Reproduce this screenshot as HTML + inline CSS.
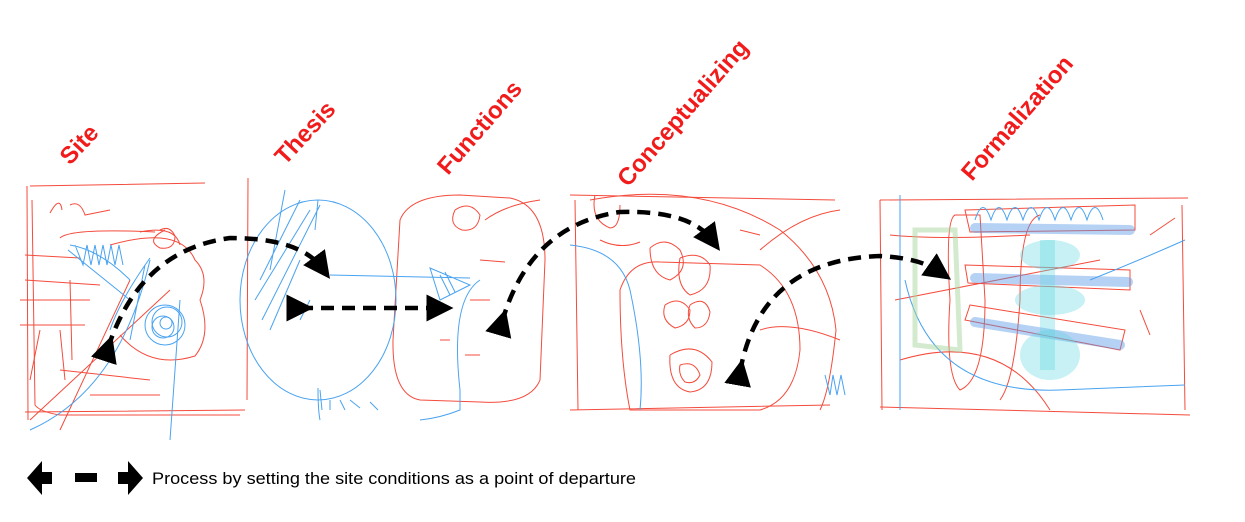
<!DOCTYPE html>
<html><head><meta charset="utf-8"><style>
html,body{margin:0;padding:0;background:#fff;width:1245px;height:522px;overflow:hidden}
svg{display:block}
.l{font-family:"Liberation Sans",sans-serif;font-weight:bold;font-size:24px;fill:#f21b1b}
</style></head><body>
<svg width="1245" height="522" viewBox="0 0 1245 522" xmlns="http://www.w3.org/2000/svg">
<defs>
<marker id="h" markerWidth="6" markerHeight="6" refX="3" refY="3" orient="auto" markerUnits="strokeWidth">
<path d="M0,0 L6,3 L0,6 Z" fill="#000"/></marker>
</defs>
<text class="l" transform="translate(70,166) rotate(-47)">Site</text>
<text class="l" transform="translate(285,166) rotate(-47)">Thesis</text>
<text class="l" transform="translate(448,176) rotate(-49)">Functions</text>
<text class="l" transform="translate(628,188) rotate(-49)">Conceptualizing</text>
<text class="l" transform="translate(972,182) rotate(-49)">Formalization</text>

<g fill="none" stroke="#f44b3c" stroke-width="1">
<path d="M30,186 L205,183 M27,186 L28,420 M248,178 L247,400 M25,412 L245,410"/>
<path d="M32,200 L35,405 Q40,412 60,415 L240,415"/>
<path d="M50,213 Q60,195 62,210 M70,205 Q80,200 85,215 L110,210"/>
<path d="M60,238 Q70,228 155,232 M140,232 Q175,225 180,245"/>
<path d="M25,255 L80,258 M25,280 L100,285 M20,300 L90,300 M20,325 L85,325 M60,330 L65,380 M70,280 L72,360"/>
<path d="M110,245 Q180,225 195,260 Q210,275 200,300 Q212,335 195,356 Q150,370 120,335"/>
<path d="M165,230 Q145,240 160,248 Q175,250 175,236 Q170,225 160,230"/>
<path d="M60,370 L150,380 M90,395 L160,395 M30,380 L40,330"/>
<path d="M170,290 L30,420 M130,280 L60,430"/>
<path d="M400,220 Q410,195 460,195 L510,198 Q545,205 545,260 L540,380 Q530,405 480,402 L420,400 Q392,395 393,340 Z"/>
<path d="M455,210 Q470,200 480,215 Q478,232 462,230 Q448,225 455,210"/>
<path d="M480,260 L505,262 M440,340 L450,340 M465,355 L480,355 M470,300 L490,300 M485,220 Q505,205 540,200"/>
<path d="M570,195 L835,200 M575,200 L578,410 M570,410 L830,405 M595,195 Q590,220 610,228 Q620,228 620,205"/>
<path d="M590,200 Q700,180 780,230 Q830,270 836,330 Q830,390 820,410"/>
<path d="M620,290 Q630,260 660,262 L760,265 Q800,290 800,350 Q795,400 760,410 L630,410 Q620,360 620,290"/>
<path d="M650,248 Q665,235 680,250 Q690,270 670,280 Q650,275 650,248"/>
<path d="M680,258 Q700,250 710,265 Q712,290 690,295 Q675,285 680,258"/>
<path d="M665,305 Q680,295 690,310 Q690,325 675,328 Q660,320 665,305 M690,305 Q705,295 710,312 Q708,328 695,328 Q685,318 690,305"/>
<path d="M670,355 Q695,340 712,362 Q712,390 690,392 Q668,388 670,355 M680,365 Q695,360 700,375 Q695,385 685,382 Q678,375 680,365"/>
<path d="M740,230 L760,235 M760,250 Q800,215 840,210 M760,330 Q790,320 840,340 M600,240 Q620,250 640,242"/>
<path d="M880,200 L1188,198 M880,200 L882,410 M880,407 L1190,415 M1182,205 L1185,410"/>
<path d="M965,210 L1135,205 L1135,230 L970,232 Z M965,265 L1130,270 L1130,290 L968,283 Z M970,305 L1125,330 L1120,350 L965,320 Z"/>
<path d="M955,215 Q945,220 950,300 Q945,375 960,390 Q985,380 985,300 L980,215 Z"/>
<path d="M890,235 Q940,240 1030,235 M895,300 Q1050,270 1100,260 M900,360 Q1000,330 1050,410 M1150,235 L1175,218 M1140,310 L1150,335"/>
<path d="M1040,215 Q1020,220 1020,300 Q1015,380 1000,400"/>
</g>
<g fill="none" stroke="#4aa3f0" stroke-width="1">
<path d="M70,245 Q100,250 130,280 M68,250 L130,300 M75,245 l8,20 l4,-20 l4,20 l4,-20 l4,20 l4,-20 l4,20 l4,-20 l4,20 l4,-20 l4,20" />
<circle cx="165" cy="325" r="20"/><circle cx="167" cy="322" r="15"/><circle cx="163" cy="327" r="11"/><circle cx="166" cy="323" r="6"/>
<path d="M150,258 Q120,300 110,330 M30,430 Q120,390 150,260 M180,300 L170,440 M145,265 L130,340"/>
<ellipse cx="318" cy="300" rx="78" ry="100"/>
<path d="M300,200 L260,280 M310,210 L255,300 M320,205 L262,320 M285,190 L270,270 M318,200 L315,230 M300,260 L270,330 M310,300 L300,320"/>
<path d="M330,275 L470,278 M430,268 L470,285 L440,300 Z M440,275 L450,295 M445,272 L455,292"/>
<path d="M318,388 Q318,410 320,420 M320,390 L322,410 M330,400 L330,410 M340,400 L345,410 M350,400 L360,408 M370,402 L378,410"/>
<path d="M480,280 Q450,300 460,390 L460,410 Q440,418 420,420"/>
<path d="M570,245 Q620,250 630,290 Q645,360 640,410 M825,375 l5,20 l3,-20 l4,20 l4,-20 l4,20"/>
<path d="M900,195 L900,410 M905,280 Q930,395 1060,390 L1185,385 M1090,280 Q1140,260 1185,240"/>
<path d="M975,220 q8,-25 16,0 q8,-25 16,0 q8,-25 16,0 q8,-25 16,0 q8,-25 16,0 q8,-25 16,0 q8,-25 16,0 q8,-25 16,0"/>
</g>
<g stroke-linecap="round" fill="none">
<path d="M975,228 L1130,230" stroke="#5b9be8" stroke-opacity="0.45" stroke-width="10"/>
<path d="M975,278 L1128,282" stroke="#5b9be8" stroke-opacity="0.45" stroke-width="10"/>
<path d="M975,322 L1120,345" stroke="#5b9be8" stroke-opacity="0.45" stroke-width="10"/>
<path d="M915,230 L915,345 L960,350 L955,230 Z" stroke="#a8d5a0" stroke-opacity="0.5" stroke-width="5"/>
</g>
<g fill="#5ed6e0" fill-opacity="0.35" stroke="none">
<ellipse cx="1050" cy="255" rx="30" ry="15"/>
<ellipse cx="1050" cy="300" rx="35" ry="15"/>
<ellipse cx="1050" cy="355" rx="30" ry="25"/>
<rect x="1040" y="240" width="15" height="130"/>
</g>
<g fill="none" stroke="#000" stroke-width="4.5" stroke-dasharray="13,8">
<path d="M108,348 Q140,250 230,238 Q300,238 322,268" marker-start="url(#h)" marker-end="url(#h)"/>
<path d="M300,308 L440,308" marker-start="url(#h)" marker-end="url(#h)"/>
<path d="M502,322 Q530,225 620,212 Q690,210 712,240" marker-start="url(#h)" marker-end="url(#h)"/>
<path d="M740,372 Q760,260 880,256 Q920,258 940,272" marker-start="url(#h)" marker-end="url(#h)"/>
</g>
<path d="M27,478 L42,461 L42,472 L52,472 L52,484 L42,484 L42,495 Z" fill="#000"/>
<rect x="75" y="473" width="22" height="9" fill="#000"/>
<path d="M143,478 L128,461 L128,472 L118,472 L118,484 L128,484 L128,495 Z" fill="#000"/>
<text x="152" y="484" font-family="Liberation Sans, sans-serif" font-size="16.5" fill="#000" textLength="484" lengthAdjust="spacingAndGlyphs">Process by setting the site conditions as a point of departure</text>
</svg>
</body></html>
